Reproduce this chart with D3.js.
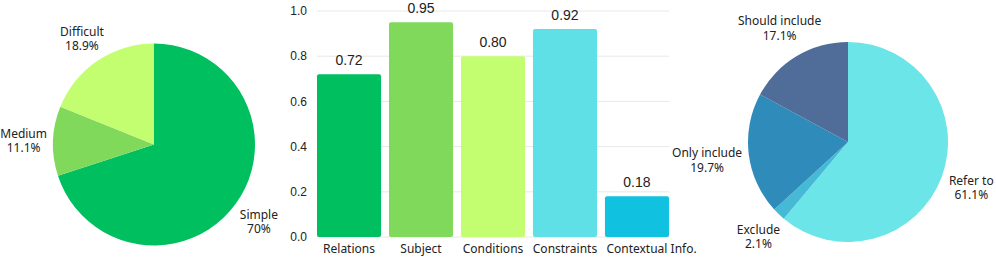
<!DOCTYPE html>
<html>
<head>
<meta charset="utf-8">
<script src="https://cdn.jsdelivr.net/npm/d3@7"></script>
<style>
  body { margin: 0; background: #fff; }
  svg text { fill: #222; }
</style>
</head>
<body>
<div id="chart"></div>
<script>
var w = 996, h = 257;

// left pie: difficulty
var diffLabels = ["Simple", "Medium", "Difficult"];
var diffValues = [70, 11.1, 18.9];
var diffText = ["70%", "11.1%", "18.9%"];
var diffColors = ["#00bf5f", "#80d95b", "#c3fe70"];

// middle bars
var barCats = ["Relations", "Subject", "Conditions", "Constraints", "Contextual Info."];
var barValues = [0.72, 0.95, 0.80, 0.92, 0.18];
var barColors = ["#00bf5f", "#80d95b", "#c3fe70", "#5ee0e6", "#10c2e0"];
var yTicks = [0, 0.2, 0.4, 0.6, 0.8, 1.0];

// right pie: reference type
var refLabels = ["Refer to", "Exclude", "Only include", "Should include"];
var refValues = [61.1, 2.1, 19.7, 17.1];
var refText = ["61.1%", "2.1%", "19.7%", "17.1%"];
var refColors = ["#6be5e7", "#45b9d6", "#2e8bba", "#4f6d98"];

const chart = d3.select("#chart")
  .append("svg")
  .attr("width", w)
  .attr("height", h);

function drawPie(cx, cy, r, labels, values, texts, colors) {
  var g = chart.append("g").attr("transform", "translate(" + cx + "," + cy + ")");
  var pie = d3.pie().sort(null).value(d => d);
  var arcs = pie(values);
  var arc = d3.arc().innerRadius(0).outerRadius(r);

  g.selectAll("path")
    .data(arcs)
    .enter().append("path")
    .attr("d", arc)
    .attr("fill", (d, i) => colors[i]);

  var boxH = 24.5, gap = 6;
  arcs.forEach(function(d, i) {
    var t = g.append("text")
      .attr("text-anchor", "middle")
      .attr("font-family", "'Noto Sans', sans-serif")
      .attr("font-size", 12);
    var l1 = t.append("tspan").attr("x", 0).attr("y", -2).text(labels[i]);
    var l2 = t.append("tspan").attr("x", 0).attr("y", 12.4).text(texts[i]);
    var bw = Math.max(l1.node().getComputedTextLength(), l2.node().getComputedTextLength());
    var a = (d.startAngle + d.endAngle) / 2;
    var ux = Math.sin(a), uy = -Math.cos(a);
    // push the label box out along the mid angle until it clears the pie
    function nearest(D) {
      var bx = ux * D, by = uy * D;
      var nx = Math.max(bx - bw / 2, Math.min(0, bx + bw / 2));
      var ny = Math.max(by - boxH / 2, Math.min(0, by + boxH / 2));
      return Math.sqrt(nx * nx + ny * ny);
    }
    var lo = r, hi = r * 3;
    for (var k = 0; k < 40; k++) {
      var mid = (lo + hi) / 2;
      if (nearest(mid) < r + gap) lo = mid; else hi = mid;
    }
    t.attr("transform", "translate(" + (ux * hi) + "," + (uy * hi) + ")");
  });
}

drawPie(154, 144.5, 101, diffLabels, diffValues, diffText, diffColors);
drawPie(848, 142, 100, refLabels, refValues, refText, refColors);

// bar chart
var x = d3.scaleBand()
  .domain(barCats)
  .range([317, 669])
  .paddingInner(0.11)
  .paddingOuter(0);

var y = d3.scaleLinear()
  .domain([0, 1])
  .range([237, 11]);

chart.append("g")
  .selectAll("line")
  .data(yTicks)
  .enter().append("line")
  .attr("x1", 317)
  .attr("x2", 669)
  .attr("y1", d => y(d))
  .attr("y2", d => y(d))
  .attr("stroke", "#e8e8e8")
  .attr("stroke-width", 1);

chart.append("g")
  .selectAll("text")
  .data(yTicks)
  .enter().append("text")
  .attr("x", 307)
  .attr("y", d => y(d))
  .attr("dy", "0.35em")
  .attr("text-anchor", "end")
  .attr("font-family", "'Liberation Sans', Arial, sans-serif")
  .attr("font-size", 12)
  .text(d => d.toFixed(1));

chart.append("g")
  .selectAll("rect")
  .data(barValues)
  .enter().append("rect")
  .attr("x", (d, i) => x(barCats[i]))
  .attr("y", d => y(d))
  .attr("width", x.bandwidth())
  .attr("height", d => y(0) - y(d))
  .attr("rx", 2)
  .attr("fill", (d, i) => barColors[i]);

chart.append("g")
  .selectAll("text")
  .data(barValues)
  .enter().append("text")
  .attr("x", (d, i) => x(barCats[i]) + x.bandwidth() / 2)
  .attr("y", d => y(d) - 9)
  .attr("text-anchor", "middle")
  .attr("font-family", "'Liberation Sans', Arial, sans-serif")
  .attr("font-size", 14)
  .text(d => d.toFixed(2));

var catText = chart.append("g")
  .selectAll("text")
  .data(barCats)
  .enter().append("text")
  .attr("x", d => x(d) + x.bandwidth() / 2)
  .attr("y", 253)
  .attr("text-anchor", "middle")
  .attr("font-family", "'Noto Sans', sans-serif")
  .attr("font-size", 12)
  .text(d => d);

// nudge labels right when they would run into their neighbour
var prevRight = -Infinity;
catText.each(function() {
  var b = this.getBBox();
  if (b.x < prevRight + 9) {
    var shift = prevRight + 9 - b.x;
    d3.select(this).attr("x", +d3.select(this).attr("x") + shift);
    b.x += shift;
  }
  prevRight = b.x + b.width;
});
</script>
</body>
</html>
